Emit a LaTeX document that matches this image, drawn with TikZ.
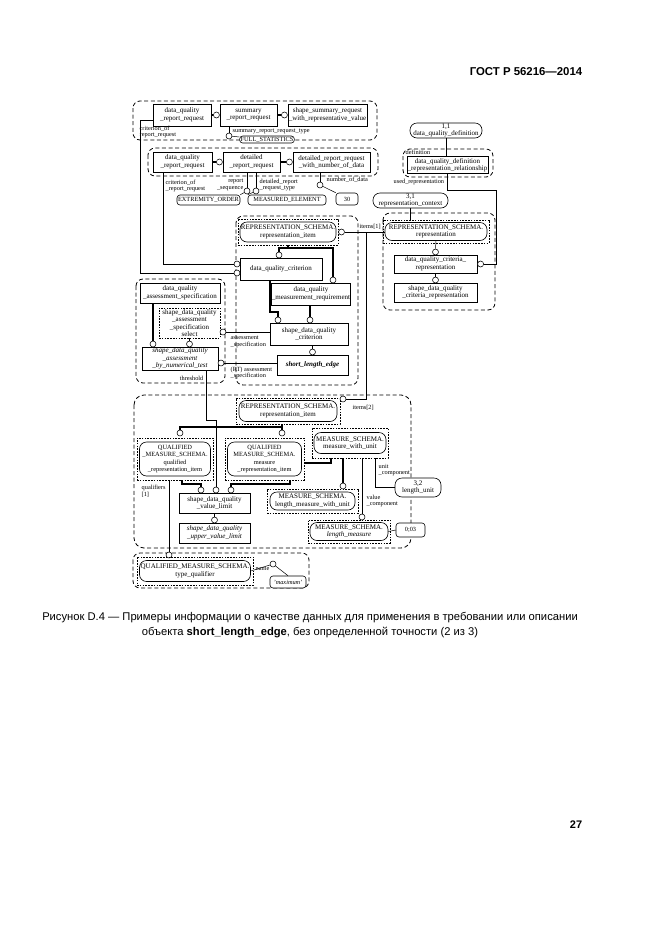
\documentclass[tikz,border=0pt]{standalone}
\usepackage{fontspec}
\setmainfont{Liberation Serif}
\newfontfamily\capfont{Liberation Sans}
\usetikzlibrary{positioning}

\newcommand{\dg}{\fontsize{7}{7.4}\selectfont}
\newcommand{\dgs}{\fontsize{6.3}{6.8}\selectfont}

\begin{document}
\begin{tikzpicture}[x=1pt, y=-1pt,
ent/.style={draw, line width=.6pt, align=center, inner sep=.5pt, font=\dg},
stad/.style={draw, line width=.6pt, rounded corners=7pt, align=center, inner sep=.5pt, font=\dg},
frm/.style={draw, dash pattern=on 1.6pt off 1.2pt, line width=.45pt, inner sep=0pt},
grp/.style={draw, dash pattern=on 4pt off 2.6pt, line width=.8pt, rounded corners=7pt},
circ/.style={draw, circle, fill=white, line width=.55pt, inner sep=0pt, minimum size=6pt},
lbl/.style={font=\dgs, inner sep=.5pt, align=left},
cll/.style={draw, fill=white, rounded corners=3pt, line width=.6pt, font=\dgs, inner sep=1pt},
lnk/.style={line width=.5pt},
thk/.style={line width=1.8pt},
sz/.style 2 args={minimum width=#1pt, minimum height=#2pt}
]
\useasboundingbox (0,0) rectangle (661,935);

% groups
\draw[grp] (133,101) rectangle (377,140);
\draw[grp] (148,148) rectangle (378,176);
\draw[grp] (403,149) rectangle (493,177);
\draw[grp] (383,213) rectangle (495,310);
\draw[grp] (236,216) rectangle (358,385);
\draw[grp] (136,279) rectangle (225,383);
\draw[grp, rounded corners=10pt] (134,395) rectangle (411,548);
\draw[grp] (133,553) rectangle (309,588);

% summary report request
\node[ent, sz={58}{22}] (rq1) at (182,115) {data\_quality\\\_report\_request};
\node[ent, sz={57}{22}] (sum) at (248.5,115) {summary\\\_report\_request};
\node[ent, sz={79}{22}] (ssr) at (327.5,115) {shape\_summary\_request\\\_with\_representative\_value};
\node[circ, left=0pt of sum] (cSum) {};
\node[circ, left=0pt of ssr] (cSsr) {};
\node[circ] (cSrt) at (229,136) {};
\node[cll] (fst) at (267,139.5) {FULL\_STATISTICS};
\node[lbl, anchor=west] (lSrt) at (232,131) {summary\_report\_request\_type};
\node[lbl, anchor=west] (lCr1) at (139,132) {criterion\_of\\report\_request};

\draw[thk] (rq1) -- (cSum);
\draw[thk] (sum) -- (cSsr);
\draw[lnk] ([xshift=-19.5pt]sum.south) -- (cSrt.north);
\draw[lnk] (cSrt) -- (fst);

% detailed report request
\node[ent, sz={59}{20}] (rq2) at (182.5,162) {data\_quality\\\_report\_request};
\node[ent, sz={57}{20}] (det) at (251.5,162) {detailed\\\_report\_request};
\node[ent, sz={77}{20}] (dnd) at (331.5,162) {detailed\_report\_request\\\_with\_number\_of\_data};
\node[circ, left=0pt of det] (cDet) {};
\node[circ, left=0pt of dnd] (cDnd) {};
\node[circ] (cSeq) at (247,191) {};
\node[circ] (cTyp) at (256,191) {};
\node[circ] (cNum) at (320,185) {};
\node[cll, sz={63}{10}] (eo) at (208.5,200) {EXTREMITY\_ORDER};
\node[cll, sz={78}{10}] (me) at (287,200) {MEASURED\_ELEMENT};
\node[cll, sz={22}{12}] (n30) at (347,199) {30};
\node[lbl, anchor=east, align=right] (lSeq) at (244,185) {report\\\_sequence};
\node[lbl, anchor=west] (lTyp) at (259,185) {detailed\_report\\\_request\_type};
\node[lbl, anchor=west] (lNum) at (326,180) {number\_of\_data};
\node[lbl, anchor=west] (lCr2) at (165,186) {criterion\_of\\\_report\_request};

\draw[thk] (rq2) -- (cDet);
\draw[thk] (det) -- (cDnd);
\draw[lnk] ([xshift=-4.5pt]det.south) -- (cSeq.north);
\draw[lnk] ([xshift=4.5pt]det.south) -- (cTyp.north);
\draw[lnk] (cSeq) -- (eo.north east);
\draw[lnk] (cTyp) -- (me.north west);
\draw[lnk] ([xshift=-11.5pt]dnd.south) -- (cNum.north);
\draw[lnk] (cNum) -- (n30.north west);

% data quality definition
\node[stad, sz={72}{15}] (dqd) at (446,130.5) {1,1\\data\_quality\_definition};
\node[ent, sz={81}{17}] (rel) at (447.5,165) {data\_quality\_definition\\\_representation\_relationship};
\node[lbl, anchor=west] (lDef) at (405,152) {definition};
\node[lbl, anchor=west] (lUse) at (393,182) {used\_representation};
\node[stad, sz={75}{15}] (rc) at (410.5,200.5) {3,1\\representation\_context};
\draw[lnk] (dqd.south) -- (dqd.south |- rel.north);

% representation (right)
\node[frm, sz={106}{23}] (repF) at (436,231.5) {};
\node[stad, sz={102}{18}] (rep) at (436,231.5) {REPRESENTATION\_SCHEMA.\\representation};
\node[circ] (cRep) at (435.5,252) {};
\node[ent, sz={83}{18}] (dcr) at (435.5,264) {data\_quality\_criteria\_\\representation};
\node[circ] (cScr) at (435.5,280) {};
\node[ent, sz={83}{19}] (scr) at (435.5,292.5) {shape\_data\_quality\\\_criteria\_representation};
\node[circ, right=0pt of dcr] (cDcr) {};
\draw[lnk] (rc.south) -- (rc.south |- repF.north);
\draw[lnk] (rep.south) -- (cRep.north);
\draw[thk] (dcr.south) -- (cScr.north);
\draw[lnk] (rel.south) -- ++(0,16) -- ++(49,0) |- (cDcr.east);

% representation item (middle)
\node[frm, sz={100}{26}] (rsiF) at (288,232) {};
\node[stad, sz={96}{20}] (rsi) at (288,232) {REPRESENTATION\_SCHEMA.\\representation\_item};
\node[circ, right=0pt of rsiF] (cRsi) {};
\node[lbl, anchor=south west] (lIt1) at (359,230) {items[1]};
\coordinate (jn) at (366,232);
\node[circ] (cDqc) at (279,255) {};
\node[ent, sz={82}{22}] (dqc) at (281,269) {data\_quality\_criterion};
\node[circ] (cQ1) at (237,264) {};
\node[circ] (cQ2) at (237,273) {};
\node[circ] (cDmr) at (333,280) {};
\node[ent, sz={78}{22}] (dmr) at (311,294) {data\_quality\\\_measurement\_requirement};
\node[circ] (cSq1) at (278,320) {};
\node[circ] (cSq2) at (310,320) {};
\node[ent, sz={78}{22}] (sqc) at (309,334) {shape\_data\_quality\\\_criterion};
\node[circ] (cSle) at (312.5,352) {};
\node[ent, sz={71}{20}, font=\dg\bfseries\itshape] (sle) at (312.5,365) {short\_length\_edge};

\draw[lnk] (cRsi) -- (cRsi -| rep.west);
\draw[thk] (rsiF.south) -- ++(0,3) -| (cDqc.north);
\draw[thk] (rsiF.south) -- ++(0,3) -| (cDmr.north);
\draw[thk] ([xshift=-11pt]dqc.south) |- ([yshift=5pt]cSq1.north) -- (cSq1.north);
\draw[thk] (cSq2 |- dmr.south) -- (cSq2.north);
\draw[thk] (cSle |- sqc.south) -- (cSle.north);
\draw[lnk] ([yshift=-5pt]rq1.west) -- ++(-12,0) |- (cQ2);
\draw[lnk] ([xshift=-19.5pt]rq2.south) |- (cQ1);

% assessment specification (left)
\node[ent, sz={80}{20}] (das) at (180,293) {data\_quality\\\_assessment\_specification};
\node[ent, sz={61}{30}, dash pattern=on 1.6pt off 1.2pt] (sel) at (189.5,323) {shape\_data\_quality\\\_assessment\\\_specification\\select};
\node[circ] (cNt1) at (153,344) {};
\node[circ] (cNt2) at (189.5,344) {};
\node[ent, sz={76}{23}, font=\dg\itshape] (nt) at (180,358.5) {shape\_data\_quality\\\_assessment\\\_by\_numerical\_test};
\node[circ] (cSel) at (223,332) {};
\node[circ] (cNt) at (221,363) {};
\node[lbl, anchor=north west] (lAs1) at (230,335) {assessment\\\_specification};
\node[lbl, anchor=north west] (lAs2) at (230,366) {(RT) assessment\\\_specification};
\node[lbl, anchor=east] (lThr) at (204,378) {threshold};

\draw[thk] (cNt1 |- das.south) -- (cNt1.north);
\draw[lnk] (sel.south) -- (cNt2.north);
\draw[lnk] (cSel) -- (cSel -| sqc.west);
\draw[lnk] (cNt) -- (cNt -| sle.west);

% value limit (lower)
\node[frm, sz={104}{26}] (rsi2F) at (288,411) {};
\node[stad, sz={98}{21}] (rsi2) at (288,411) {REPRESENTATION\_SCHEMA.\\representation\_item};
\node[circ] (cRsi2) at (343,399) {};
\node[lbl, anchor=west] (lIt2) at (352,408) {items[2]};
\node[circ] (cQri) at (180,433) {};
\node[circ] (cMri) at (282,433) {};
\node[frm, sz={76}{42}] (qriF) at (175,459) {};
\node[stad, sz={71}{34}, font=\fontsize{6.4}{7.4}\selectfont] (qri) at (175,459) {QUALIFIED\\\_MEASURE\_SCHEMA.\\qualified\\\_representation\_item};
\node[frm, sz={79}{42}] (mriF) at (264.5,459) {};
\node[stad, sz={74}{34}, font=\fontsize{6.4}{7.4}\selectfont] (mri) at (264.5,459) {QUALIFIED\\MEASURE\_SCHEMA.\\measure\\\_representation\_item};
\node[frm, sz={76}{30}] (mwuF) at (350,443) {};
\node[stad, sz={72}{21}] (mwu) at (350,443) {MEASURE\_SCHEMA.\\measure\_with\_unit};
\node[circ] (cLmwu) at (343,486) {};
\node[circ] (cLm) at (362,517) {};
\node[lbl, anchor=west] (lVal) at (366,501) {value\\\_component};
\node[lbl, anchor=west] (lUnit) at (378,470) {unit\\\_component};
\node[stad, sz={46}{19}, fill=white] (lu) at (418,487.5) {3,2\\length\_unit};
\node[frm, sz={91}{24}] (lmwuF) at (312.5,501) {};
\node[stad, sz={85}{18}] (lmwu) at (312.5,501) {MEASURE\_SCHEMA.\\length\_measure\_with\_unit};
\node[frm, sz={82}{23}] (lmF) at (349,531.5) {};
\node[stad, sz={78}{18}] (lm) at (349,531.5) {MEASURE\_SCHEMA.\\\textit{length\_measure}};
\node[cll, sz={29}{14}] (n003) at (410.5,530) {0;03};
\node[circ] (cVl1) at (201,490) {};
\node[circ] (cVl2) at (216,490) {};
\node[circ] (cVl3) at (231,490) {};
\node[ent, sz={71}{20}] (vl) at (214.5,503) {shape\_data\_quality\\\_value\_limit};
\node[circ] (cUvl) at (214.5,520) {};
\node[ent, sz={71}{20}, font=\dg\itshape] (uvl) at (214.5,533) {shape\_data\_quality\\\_upper\_value\_limit};
\node[lbl, anchor=west] (lQua) at (141,491) {qualifiers\\{[1]}};

\draw[lnk] (jn) |- (cRsi2);
\draw[thk] ([xshift=-6pt]rsi2F.south) -- (cMri.north);
\draw[thk] ([xshift=-6pt]rsi2F.south) -- ++(0,3) -| (cQri.north);
\draw[thk] ([xshift=-19pt]mwuF.south) |- ([yshift=-4pt]mriF.east);
\draw[thk] (cLmwu |- mwuF.south) -- (cLmwu.north);
\draw[lnk] (cLm |- mwuF.south) -- (cLm.north);
\draw[lnk] ([xshift=25pt]mwuF.south) |- (lu.west);
\draw[lnk] (lm.east) -- (n003.west);
\draw[thk] ([xshift=7pt]qriF.south) -- ++(0,4) -| (cVl1.north);
\draw[thk] ([xshift=25.5pt]mriF.south) -- ++(0,4) -| (cVl3.north);
\draw[thk] (vl.south) -- (cUvl.north);
\draw[lnk] ([xshift=26pt]nt.south) -- ++(0,50) -| (cVl2.north);

% type qualifier
\node[circ] (cTq) at (169,555) {};
\node[frm, sz={116}{28}] (tqF) at (195,571) {};
\node[stad, sz={111}{21}] (tq) at (195,571) {QUALIFIED\_MEASURE\_SCHEMA.\\type\_qualifier};
\node[circ] (cName) at (273,564) {};
\node[lbl, anchor=north west] (lName) at (255,567) {name};
\node[cll, sz={36}{12}, font=\dgs\itshape] (mx) at (288,582) {'maximum'};
\draw[lnk] ([xshift=-6pt]qriF.south) -- (cTq.north);
\draw[lnk] (tq.east) -- (cName);
\draw[lnk] (cName) -- (mx.north);

% page text
\node[font=\capfont\bfseries\fontsize{11.4}{13}\selectfont] (hdr) at (526,72) {ГОСТ Р 56216—2014};
\node[font=\capfont\fontsize{11.2}{15}\selectfont, align=center] (cap) at (310,625.5) {Рисунок D.4 — Примеры информации о качестве данных для применения в требовании или описании\\объекта \textbf{short\_length\_edge}, без определенной точности (2 из 3)};
\node[font=\capfont\bfseries\fontsize{11}{13}\selectfont] (pg) at (576,825) {27};
\end{tikzpicture}
\end{document}
